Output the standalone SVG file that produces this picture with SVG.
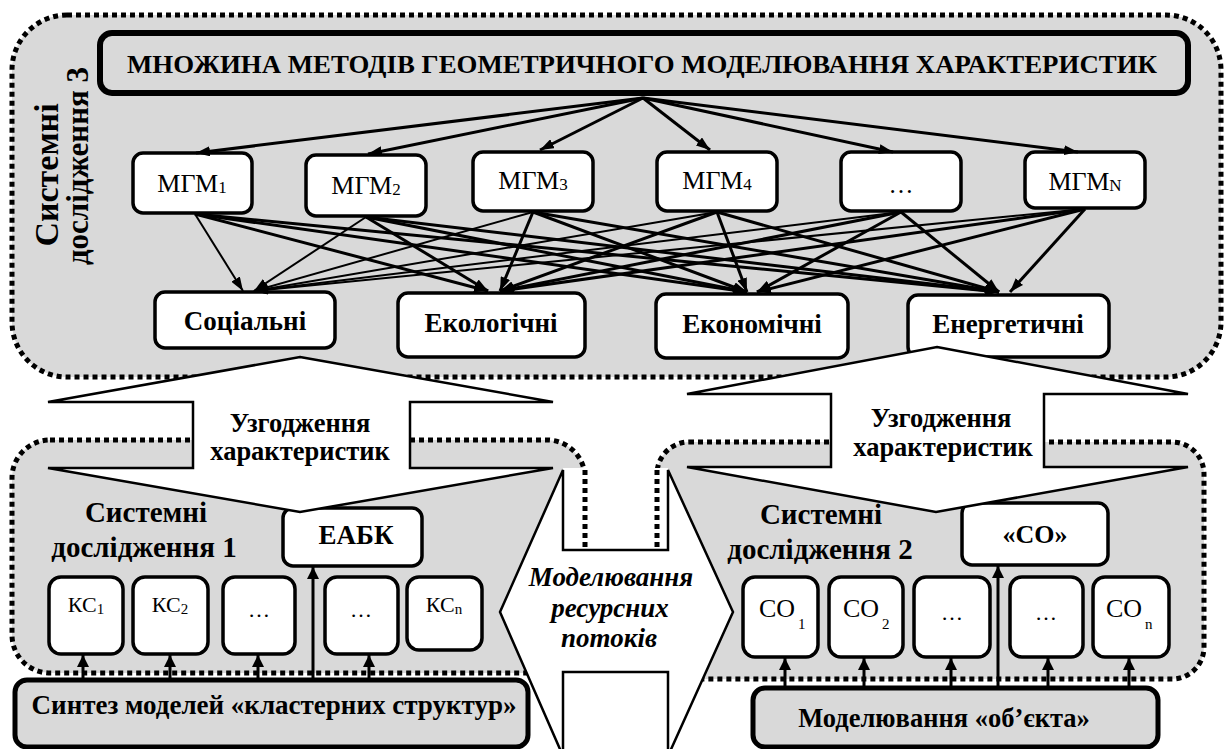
<svg xmlns="http://www.w3.org/2000/svg" width="1226" height="749" viewBox="0 0 1226 749">
<defs>
<marker id="ah" viewBox="0 0 14 10" markerWidth="14" markerHeight="10" markerUnits="userSpaceOnUse" refX="14" refY="5" orient="auto"><path d="M0,0 L14,5 L0,10 z" fill="#000"/></marker>
<marker id="ahs" viewBox="0 0 12 12" markerWidth="12" markerHeight="12" markerUnits="userSpaceOnUse" refX="12" refY="6" orient="auto"><path d="M0,0 L12,6 L0,12 z" fill="#000"/></marker>
</defs>
<style>
.box{fill:#fff;stroke:#000;stroke-width:3.5}
.gbox{fill:#d9d9d9;stroke:#000;stroke-width:5}
.cont{fill:#d9d9d9;stroke:#000;stroke-width:5;stroke-dasharray:5 4}
.dot{fill:none;stroke:#000;stroke-width:5;stroke-dasharray:5 4}
text{font-family:'Liberation Serif','Times New Roman','DejaVu Serif',serif;fill:#000}
.b{font-weight:bold}
.e{stroke:#000;stroke-width:3;fill:none;marker-end:url(#ah)}
.es{stroke:#000;stroke-width:2;fill:none;marker-end:url(#ah)}
.u{stroke:#000;stroke-width:3;fill:none;marker-end:url(#ahs)}
.big{fill:#fff;stroke:#000;stroke-width:2.5;stroke-linejoin:miter}
</style>
<rect x="0" y="0" width="1226" height="749" fill="#fff"/>
<g font-family="Liberation Serif, Times New Roman, DejaVu Serif, serif">

<g id="system3">
<rect class="cont" x="12" y="15" width="1209" height="362" rx="55"/>
<text class="b" font-size="34" text-anchor="middle" transform="translate(58,175) rotate(-90)">Системні</text>
<text class="b" font-size="31" text-anchor="middle" transform="translate(88,166) rotate(-90)">дослідження 3</text>
</g>

<g id="title">
<rect x="100" y="33" width="1088" height="60" rx="12" fill="#d9d9d9" stroke="#000" stroke-width="6"/>
<text class="b" font-size="25" x="642" y="73" text-anchor="middle" textLength="1030" lengthAdjust="spacingAndGlyphs">МНОЖИНА МЕТОДІВ ГЕОМЕТРИЧНОГО МОДЕЛЮВАННЯ ХАРАКТЕРИСТИК</text>
</g>

<g id="mgm1"><rect class="box" x="133" y="153" width="119" height="60" rx="10"/><text font-size="26" x="192" y="192" text-anchor="middle">МГМ<tspan font-size="17" dy="1">1</tspan></text></g>
<g id="mgm2"><rect class="box" x="306" y="155" width="120" height="61" rx="10"/><text font-size="26" x="366" y="194" text-anchor="middle">МГМ<tspan font-size="17" dy="1">2</tspan></text></g>
<g id="mgm3"><rect class="box" x="473" y="152" width="120" height="59" rx="10"/><text font-size="26" x="533" y="189" text-anchor="middle">МГМ<tspan font-size="17" dy="1">3</tspan></text></g>
<g id="mgm4"><rect class="box" x="657" y="152" width="120" height="59" rx="10"/><text font-size="26" x="717" y="189" text-anchor="middle">МГМ<tspan font-size="17" dy="1">4</tspan></text></g>
<g id="mgm5"><rect class="box" x="841" y="152" width="120" height="59" rx="10"/><text font-size="25" x="901" y="193" text-anchor="middle">…</text></g>
<g id="mgmN"><rect class="box" x="1025" y="152" width="120" height="56" rx="10"/><text font-size="26" x="1085" y="190" text-anchor="middle">МГМ<tspan font-size="17" dy="1">N</tspan></text></g>

<g id="soc"><rect class="box" x="155" y="292" width="180" height="56" rx="10"/><text class="b" font-size="27" x="245" y="330" text-anchor="middle">Соціальні</text></g>
<g id="ekol"><rect class="box" x="398" y="293" width="187" height="64" rx="10"/><text class="b" font-size="27" x="491" y="332" text-anchor="middle">Екологічні</text></g>
<g id="ekon"><rect class="box" x="656" y="294" width="192" height="64" rx="10"/><text class="b" font-size="27" x="752" y="333" text-anchor="middle">Економічні</text></g>
<g id="energ"><rect class="box" x="908" y="295" width="201" height="62" rx="10"/><text class="b" font-size="27" x="1008" y="333" text-anchor="middle">Енергетичні</text></g>

<g id="connectors-top">
<line class="e" x1="643" y1="98" x2="196" y2="153"/>
<line class="e" x1="643" y1="98" x2="368" y2="154"/>
<line class="e" x1="643" y1="98" x2="540" y2="150"/>
<line class="e" x1="643" y1="98" x2="710" y2="150"/>
<line class="e" x1="643" y1="98" x2="893" y2="152"/>
<line class="e" x1="643" y1="98" x2="1078" y2="152"/>
<line class="es" x1="195" y1="214" x2="243" y2="291"/>
<line class="es" x1="366" y1="217" x2="254" y2="291"/>
<line class="es" x1="533" y1="212" x2="254" y2="291"/>
<line class="es" x1="717" y1="212" x2="254" y2="291"/>
<line class="es" x1="901" y1="212" x2="254" y2="291"/>
<line class="es" x1="1085" y1="209" x2="254" y2="291"/>
<line class="e" x1="195" y1="214" x2="488" y2="291"/>
<line class="e" x1="366" y1="217" x2="488" y2="291"/>
<line class="e" x1="533" y1="212" x2="500" y2="291"/>
<line class="e" x1="717" y1="212" x2="500" y2="291"/>
<line class="e" x1="901" y1="212" x2="500" y2="291"/>
<line class="e" x1="1085" y1="209" x2="500" y2="291"/>
<line class="e" x1="195" y1="214" x2="747" y2="292"/>
<line class="e" x1="366" y1="217" x2="747" y2="292"/>
<line class="e" x1="533" y1="212" x2="747" y2="292"/>
<line class="e" x1="717" y1="212" x2="747" y2="292"/>
<line class="e" x1="901" y1="212" x2="757" y2="292"/>
<line class="e" x1="1085" y1="209" x2="757" y2="292"/>
<line class="e" x1="195" y1="214" x2="999" y2="292"/>
<line class="e" x1="366" y1="217" x2="999" y2="292"/>
<line class="e" x1="533" y1="212" x2="999" y2="292"/>
<line class="e" x1="717" y1="212" x2="999" y2="292"/>
<line class="e" x1="901" y1="212" x2="999" y2="292"/>
<line class="e" x1="1085" y1="209" x2="1010" y2="292"/>
</g>

<g id="system1">
<rect class="cont" x="12" y="440" width="573" height="233" rx="38"/>
</g>
<g id="system2">
<rect class="cont" x="657" y="442" width="547" height="237" rx="32"/>
</g>
<g id="gap">
<rect x="563" y="468" width="105" height="84" fill="#fff"/>
<line class="dot" x1="585" y1="470" x2="585" y2="552"/>
<line class="dot" x1="657" y1="470" x2="657" y2="552"/>
</g>

<g id="labels">
<text class="b" font-size="29" x="146" y="522" text-anchor="middle">Системні</text>
<text class="b" font-size="29" x="144" y="557" text-anchor="middle">дослідження 1</text>
<text class="b" font-size="29" x="821" y="524" text-anchor="middle">Системні</text>
<text class="b" font-size="29" x="820" y="559" text-anchor="middle">дослідження 2</text>
</g>

<g id="eabk"><rect class="box" x="283" y="508" width="139" height="58" rx="10"/><text class="b" font-size="27" x="356" y="544" text-anchor="middle">ЕАБК</text></g>
<g id="so"><rect class="box" x="962" y="503" width="146" height="62" rx="10"/><text class="b" font-size="26" x="1035" y="543" text-anchor="middle">«СО»</text></g>

<g id="ks1"><rect class="box" x="49" y="577" width="74" height="77" rx="12"/><text font-size="22" x="86" y="612" text-anchor="middle">КС<tspan font-size="15" dy="2">1</tspan></text></g>
<g id="ks2"><rect class="box" x="133" y="577" width="75" height="77" rx="12"/><text font-size="22" x="170" y="612" text-anchor="middle">КС<tspan font-size="15" dy="2">2</tspan></text></g>
<g id="ks3"><rect class="box" x="223" y="577" width="72" height="77" rx="12"/><text font-size="22" x="259" y="617" text-anchor="middle">…</text></g>
<g id="ks4"><rect class="box" x="325" y="577" width="73" height="77" rx="12"/><text font-size="22" x="361" y="617" text-anchor="middle">…</text></g>
<g id="ksn"><rect class="box" x="407" y="577" width="75" height="73" rx="12"/><text font-size="22" x="444" y="612" text-anchor="middle">КС<tspan font-size="15" dy="2">n</tspan></text></g>

<g id="co1"><rect class="box" x="743" y="577" width="75" height="80" rx="12"/><text font-size="26" x="759" y="617">CO<tspan font-size="15" x="798" y="629">1</tspan></text></g>
<g id="co2"><rect class="box" x="829" y="577" width="74" height="80" rx="12"/><text font-size="26" x="843" y="617">CO<tspan font-size="15" x="882" y="629">2</tspan></text></g>
<g id="co3"><rect class="box" x="914" y="577" width="76" height="80" rx="12"/><text font-size="22" x="952" y="620" text-anchor="middle">…</text></g>
<g id="co4"><rect class="box" x="1010" y="577" width="73" height="80" rx="12"/><text font-size="22" x="1046" y="620" text-anchor="middle">…</text></g>
<g id="con"><rect class="box" x="1093" y="577" width="76" height="80" rx="12"/><text font-size="26" x="1106" y="617">CO<tspan font-size="15" x="1145" y="629">n</tspan></text></g>

<g id="synth"><rect class="gbox" x="15" y="680" width="513" height="67" rx="12"/><text class="b" font-size="27" x="274" y="714" text-anchor="middle">Синтез моделей «кластерних структур»</text></g>
<g id="object"><rect class="gbox" x="753" y="688" width="405" height="59" rx="12"/><text class="b" font-size="26.5" x="944" y="727" text-anchor="middle">Моделювання «об’єкта»</text></g>

<g id="connectors-bottom">
<line class="u" x1="83" y1="680" x2="83" y2="655"/>
<line class="u" x1="170" y1="680" x2="170" y2="655"/>
<line class="u" x1="258" y1="680" x2="258" y2="655"/>
<line class="u" x1="313" y1="680" x2="313" y2="567"/>
<line class="u" x1="369" y1="680" x2="369" y2="655"/>
<line class="u" x1="785" y1="688" x2="785" y2="658"/>
<line class="u" x1="864" y1="688" x2="864" y2="658"/>
<line class="u" x1="951" y1="688" x2="951" y2="658"/>
<line class="u" x1="998" y1="688" x2="998" y2="566"/>
<line class="u" x1="1048" y1="688" x2="1048" y2="658"/>
<line class="u" x1="1129" y1="688" x2="1129" y2="658"/>
</g>

<g id="flows">
<polygon class="big" stroke-width="3" points="500,612 563,470 563,550 668,550 668,470 733,612 668,756 668,672 563,672 563,756"/>
<text class="b" font-style="italic" font-size="27" x="611" y="586" text-anchor="middle">Моделювання</text>
<text class="b" font-style="italic" font-size="27" x="610" y="617" text-anchor="middle">ресурсних</text>
<text class="b" font-style="italic" font-size="27" x="609" y="647" text-anchor="middle">потоків</text>
</g>

<g id="agree-left">
<polygon class="big" points="300,357 553,402 410,402 410,468 553,468 300,512 48,468 193,468 193,402 48,402"/>
<text class="b" font-size="26.5" x="300" y="432" text-anchor="middle">Узгодження</text>
<text class="b" font-size="26.5" x="300" y="460" text-anchor="middle">характеристик</text>
</g>
<g id="agree-right">
<polygon class="big" points="937,347 1188,394 1044,394 1044,467 1188,467 936,512 687,467 831,467 831,394 687,394"/>
<text class="b" font-size="26.5" x="941" y="427" text-anchor="middle">Узгодження</text>
<text class="b" font-size="26.5" x="943" y="456" text-anchor="middle">характеристик</text>
</g>
</g>
</svg>
